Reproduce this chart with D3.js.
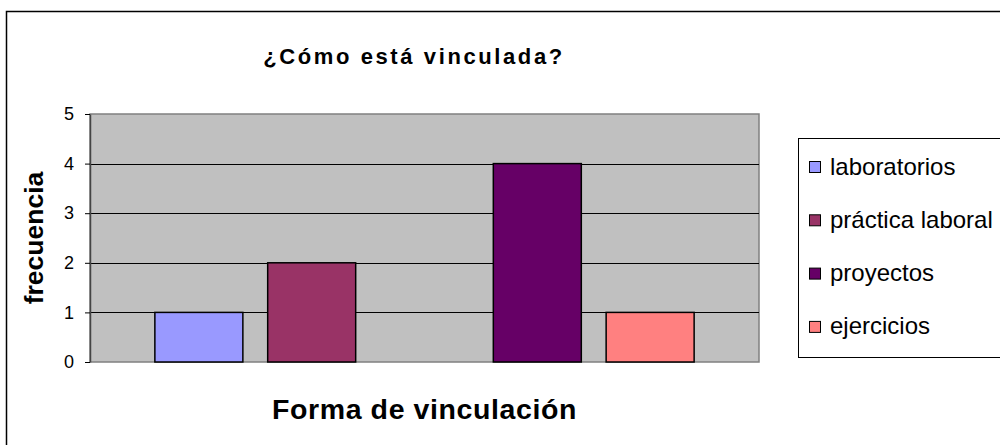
<!DOCTYPE html>
<html>
<head>
    <meta charset="utf-8">
    <title>¿Cómo está vinculada?</title>
    <style>
        body {
            margin: 0;
            background-color: white;
        }
        text {
            font-family: "Liberation Sans", Arial, sans-serif;
            fill: #000;
        }
    </style>
    <script src="https://d3js.org/d3.v7.min.js"></script>
</head>
<body>
<svg id="chart" width="1000" height="445"></svg>
<script>
    // data (third slot is empty in the original)
    var series = ["laboratorios", "práctica laboral", "", "proyectos", "ejercicios"];
    var values = [1, 2, null, 4, 1];
    var colors = ["#9999FF", "#993366", "none", "#660066", "#FF8080"];
    var yTicks = [0, 1, 2, 3, 4, 5];

    var svg = d3.select("#chart");

    // outer chart frame (runs off the right / bottom edge)
    svg.append("rect")
        .attr("x", 6.5).attr("y", 11.5)
        .attr("width", 1100).attr("height", 500)
        .attr("fill", "white")
        .attr("stroke", "#000")
        .attr("stroke-width", 1.5);

    var plot = {left: 90, right: 759, top: 114, bottom: 362};

    var x = d3.scaleBand()
        .domain(d3.range(series.length))
        .range([plot.left, plot.right])
        .paddingInner(0.22)
        .paddingOuter(0.575);

    var y = d3.scaleLinear()
        .domain([0, 5])
        .range([plot.bottom, plot.top]);

    // plot background
    svg.append("rect")
        .attr("x", plot.left).attr("y", plot.top)
        .attr("width", plot.right - plot.left)
        .attr("height", plot.bottom - plot.top)
        .attr("fill", "#C0C0C0")
        .attr("stroke", "#808080")
        .attr("stroke-width", 1.5);

    // gridlines
    svg.append("g").selectAll("line")
        .data(yTicks.filter(function(t) { return t > 0 && t < 5; }))
        .join("line")
        .attr("x1", plot.left).attr("x2", plot.right)
        .attr("y1", function(d) { return Math.round(y(d)) + 0.5; })
        .attr("y2", function(d) { return Math.round(y(d)) + 0.5; })
        .attr("stroke", "#000")
        .attr("stroke-width", 1);

    // y axis
    var yAxis = svg.append("g")
        .attr("transform", "translate(" + plot.left + ",0)")
        .call(d3.axisLeft(y).tickValues(yTicks).tickFormat(d3.format("d"))
            .tickSize(5).tickPadding(11).tickSizeOuter(0));
    yAxis.select(".domain").attr("stroke", "#444").attr("stroke-width", 1.5);
    yAxis.selectAll(".tick line").attr("stroke", "#000");
    yAxis.selectAll(".tick text")
        .style("font-family", "'Liberation Sans', Arial, sans-serif")
        .style("font-size", "18px")
        .attr("fill", "#000");

    // bars
    svg.append("g").selectAll("rect")
        .data(values.map(function(v, i) { return {v: v, i: i}; }).filter(function(d) { return d.v !== null; }))
        .join("rect")
        .attr("x", function(d) { return x(d.i); })
        .attr("width", x.bandwidth())
        .attr("y", function(d) { return y(d.v); })
        .attr("height", function(d) { return y(0) - y(d.v); })
        .attr("fill", function(d) { return colors[d.i]; })
        .attr("stroke", "#000")
        .attr("stroke-width", 1.5);

    // titles
    svg.append("text")
        .attr("x", 414).attr("y", 64)
        .attr("text-anchor", "middle")
        .style("font-size", "22px")
        .style("font-weight", "bold")
        .style("letter-spacing", "2.6px")
        .text("¿Cómo está vinculada?");

    svg.append("text")
        .attr("x", (plot.left + plot.right) / 2).attr("y", 419)
        .attr("text-anchor", "middle")
        .style("font-size", "28.5px")
        .style("font-weight", "bold")
        .style("letter-spacing", "0.6px")
        .text("Forma de vinculación");

    svg.append("text")
        .attr("transform", "translate(43," + (plot.top + plot.bottom) / 2 + ") rotate(-90)")
        .attr("text-anchor", "middle")
        .style("font-size", "26.5px")
        .style("font-weight", "bold")
        .text("frecuencia");

    // legend
    var legend = svg.append("g").attr("transform", "translate(798,138)");
    legend.append("rect")
        .attr("x", 0.5).attr("y", 0.5)
        .attr("width", 300).attr("height", 219)
        .attr("fill", "white")
        .attr("stroke", "#000")
        .attr("stroke-width", 1);

    var items = series.map(function(s, i) { return {name: s, color: colors[i]}; })
        .filter(function(d) { return d.name !== ""; });

    var rows = legend.selectAll("g.item")
        .data(items)
        .join("g")
        .attr("class", "item")
        .attr("transform", function(d, i) { return "translate(0," + (28 + i * 53.3) + ")"; });

    rows.append("rect")
        .attr("x", 11.5).attr("y", -4.5)
        .attr("width", 11).attr("height", 11)
        .attr("fill", function(d) { return d.color; })
        .attr("stroke", "#000")
        .attr("stroke-width", 1);

    rows.append("text")
        .attr("x", 32).attr("y", 8.5)
        .style("font-size", "24px")
        .text(function(d) { return d.name; });
</script>
</body>
</html>
